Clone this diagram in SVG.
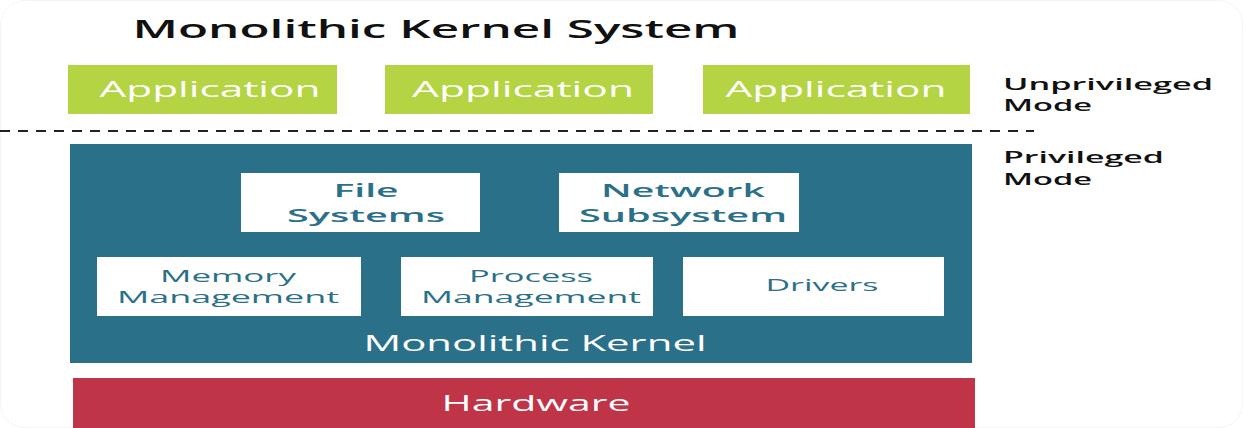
<svg xmlns="http://www.w3.org/2000/svg" width="1243" height="428" viewBox="0 0 1243 428">
  <style>
    text { font-family: "Open Sans", "Liberation Sans", sans-serif; font-weight: 600; }
    .app { fill: #B4D443; }
    .appt { fill: #ffffff; font-size: 21px; text-anchor: middle; font-weight: 500; }
    .mod { fill: #ffffff; }
    .modt { fill: #2A7089; font-size: 18px; text-anchor: middle; }
    .modt2 { fill: #2A7089; font-size: 16px; text-anchor: middle; font-weight: 500; }
    .side { fill: #111111; font-size: 17px; }
    .band { fill: #ffffff; font-size: 21px; text-anchor: middle; font-weight: 500; }
  </style>
  <rect x="0.5" y="0.5" width="1242" height="427" rx="24" fill="#ffffff" stroke="#f4f4f4"/>
  <g id="title">
    <text x="436" y="38" font-size="25" fill="#111111" text-anchor="middle" textLength="607" lengthAdjust="spacingAndGlyphs">Monolithic Kernel System</text>
  </g>
  <g id="app1">
    <rect class="app" x="68" y="65" width="269" height="49"/>
    <text class="appt" x="210" y="97" textLength="221" lengthAdjust="spacingAndGlyphs">Application</text>
  </g>
  <g id="app2">
    <rect class="app" x="385" y="65" width="268" height="49"/>
    <text class="appt" x="523" y="97" textLength="222" lengthAdjust="spacingAndGlyphs">Application</text>
  </g>
  <g id="app3">
    <rect class="app" x="703" y="65" width="267" height="49"/>
    <text class="appt" x="836" y="97" textLength="221" lengthAdjust="spacingAndGlyphs">Application</text>
  </g>
  <g id="connectors">
    <line x1="0" y1="131" x2="1034" y2="131" stroke="#222222" stroke-width="2" stroke-dasharray="10 8"/>
  </g>
  <g id="unprivileged-label">
    <text class="side" x="1003" y="90" textLength="210" lengthAdjust="spacingAndGlyphs">Unprivileged</text>
    <text class="side" x="1003" y="111" textLength="89" lengthAdjust="spacingAndGlyphs">Mode</text>
  </g>
  <g id="privileged-label">
    <text class="side" x="1003" y="163" textLength="161" lengthAdjust="spacingAndGlyphs">Privileged</text>
    <text class="side" x="1003" y="185" textLength="89" lengthAdjust="spacingAndGlyphs">Mode</text>
  </g>
  <g id="kernel">
    <rect x="70" y="144" width="902" height="219" fill="#2A7089"/>
    <text class="band" x="535" y="351" textLength="343" lengthAdjust="spacingAndGlyphs">Monolithic Kernel</text>
  </g>
  <g id="file-systems">
    <rect class="mod" x="241" y="173" width="239" height="59"/>
    <text class="modt" x="366" y="197" textLength="65" lengthAdjust="spacingAndGlyphs">File</text>
    <text class="modt" x="366" y="222" textLength="158" lengthAdjust="spacingAndGlyphs">Systems</text>
  </g>
  <g id="network-subsystem">
    <rect class="mod" x="559" y="173" width="240" height="59"/>
    <text class="modt" x="683" y="197" textLength="164" lengthAdjust="spacingAndGlyphs">Network</text>
    <text class="modt" x="683" y="222" textLength="208" lengthAdjust="spacingAndGlyphs">Subsystem</text>
  </g>
  <g id="memory-management">
    <rect class="mod" x="97" y="257" width="264" height="59"/>
    <text class="modt2" x="228" y="282" textLength="136" lengthAdjust="spacingAndGlyphs">Memory</text>
    <text class="modt2" x="228" y="303" textLength="222" lengthAdjust="spacingAndGlyphs">Management</text>
  </g>
  <g id="process-management">
    <rect class="mod" x="401" y="257" width="252" height="59"/>
    <text class="modt2" x="531" y="282" textLength="124" lengthAdjust="spacingAndGlyphs">Process</text>
    <text class="modt2" x="531" y="303" textLength="220" lengthAdjust="spacingAndGlyphs">Management</text>
  </g>
  <g id="drivers">
    <rect class="mod" x="683" y="257" width="261" height="59"/>
    <text class="modt2" x="822" y="291" textLength="113" lengthAdjust="spacingAndGlyphs">Drivers</text>
  </g>
  <g id="hardware">
    <rect x="73" y="378" width="902" height="50" fill="#BF3447"/>
    <text class="band" x="536" y="411" textLength="189" lengthAdjust="spacingAndGlyphs">Hardware</text>
  </g>
</svg>
